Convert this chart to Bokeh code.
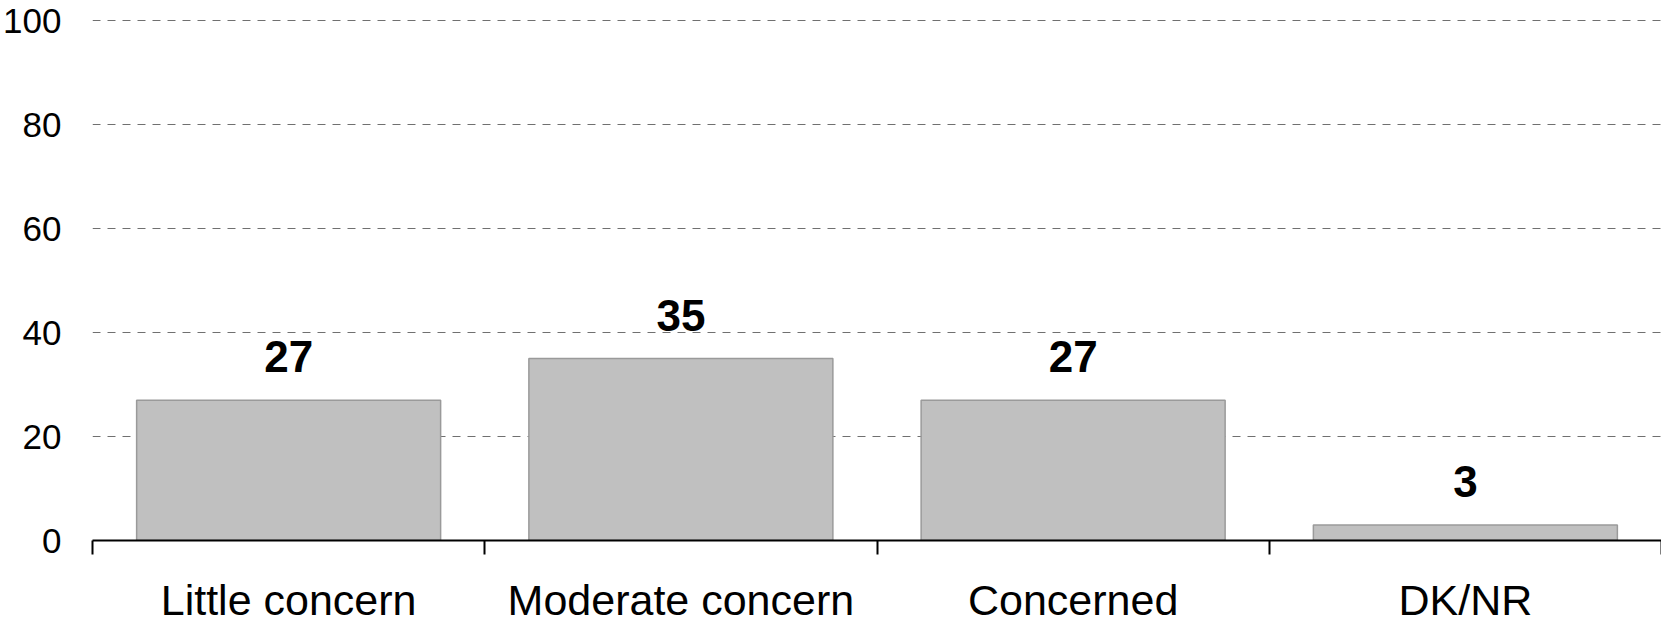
import numpy as np
from bokeh.plotting import figure
from bokeh.models import ColumnDataSource, FixedTicker, Range1d
from bokeh.core.properties import value
from bokeh.embed import file_html
from bokeh.resources import INLINE

categories = ["Little concern", "Moderate concern", "Concerned", "DK/NR"]
values = [27, 35, 27, 3]
y_ticks = [0, 20, 40, 60, 80, 100]

FONT = "Liberation Sans"

xs = [i + 0.5 for i in range(len(categories))]
src = ColumnDataSource(dict(x=xs, top=values, label=[str(v) for v in values]))

p = figure(width=1661, height=629, output_backend="svg", toolbar_location=None,
           x_range=Range1d(0, len(categories)), y_range=Range1d(0, 100.6),
           min_border_left=91, min_border_right=0, min_border_top=17, min_border_bottom=89)
p.outline_line_color = None
p.background_fill_color = "white"
p.border_fill_color = "white"

p.vbar(x="x", top="top", width=0.775, bottom=0, source=src,
       fill_color="#c0c0c0", line_color="#9a9a9a", line_width=1.5)

p.text(x="x", y="top", text="label", source=src, y_offset=-28,
       text_align="center", text_baseline="bottom",
       text_font=value(FONT), text_font_style="bold", text_font_size="44px",
       text_color="black")

# x axis: labels at centers, boundary ticks via minor ticks
p.xaxis.ticker = FixedTicker(ticks=xs, minor_ticks=list(range(len(categories) + 1)))
p.xaxis.major_label_overrides = {x: c for x, c in zip(xs, categories)}
p.xaxis.major_tick_out = 0
p.xaxis.major_tick_in = 0
p.xaxis.minor_tick_out = 14
p.xaxis.minor_tick_in = 0
p.xaxis.minor_tick_line_color = "black"
p.xaxis.minor_tick_line_width = 2
p.xaxis.axis_line_color = "black"
p.xaxis.axis_line_width = 2
p.xaxis.major_label_text_font = FONT
p.xaxis.major_label_text_font_size = "43px"
p.xaxis.major_label_text_color = "black"
p.xaxis.major_label_standoff = 21

# y axis
p.yaxis.ticker = FixedTicker(ticks=y_ticks)
p.yaxis.axis_line_color = None
p.yaxis.major_tick_line_color = None
p.yaxis.minor_tick_line_color = None
p.yaxis.major_label_text_font = FONT
p.yaxis.major_label_text_font_size = "35px"
p.yaxis.major_label_text_color = "black"
p.yaxis.major_label_standoff = 25

p.xgrid.grid_line_color = None
p.ygrid.grid_line_color = "#707070"
p.ygrid.grid_line_dash = "8 7"
p.ygrid.grid_line_width = 1

open("out.html", "w").write(file_html(p, INLINE))
